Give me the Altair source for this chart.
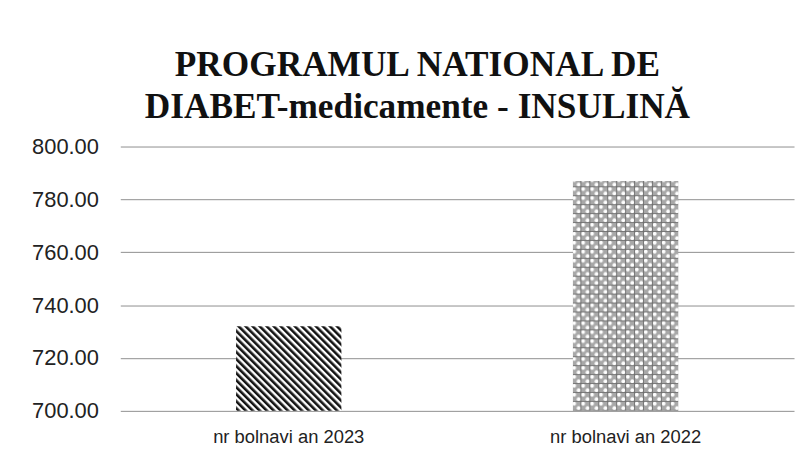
import altair as alt
import pandas as pd

categories = ["nr bolnavi an 2023", "nr bolnavi an 2022"]
values = [732, 787]
fills = ["url(#hatch)", "url(#lattice)"]
tick_values = [700, 720, 740, 760, 780, 800]
title_lines = ["PROGRAMUL NATIONAL DE", "DIABET-medicamente - INSULINĂ"]

df = pd.DataFrame({"cat": categories, "val": values})

chart = alt.Chart(df).mark_bar(size=106).encode(
    x=alt.X("cat:N", sort=categories, title=None,
            axis=alt.Axis(labelAngle=0, labelFont="Liberation Sans", labelFontSize=18.5,
                          labelColor="#222", labelPadding=17, ticks=False, domain=False,
                          grid=False)),
    y=alt.Y("val:Q", title=None,
            scale=alt.Scale(domain=[700, 800], zero=False, nice=False),
            axis=alt.Axis(values=tick_values, format=".2f", labelFont="Liberation Sans",
                          labelFontSize=22, labelColor="#222", labelPadding=22,
                          ticks=False, domain=False, grid=True,
                          gridColor="#8f8f8f", gridWidth=1)),
    y2=alt.datum(700),
    fill=alt.Fill("cat:N", scale=alt.Scale(domain=categories, range=fills), legend=None),
).properties(
    width=678, height=266,
    padding={"left": 23, "top": 39, "right": 5, "bottom": 5},
    title=alt.TitleParams(title_lines, font="Liberation Serif", fontSize=35.5, fontWeight="bold",
                          color="#111", lineHeight=42, anchor="middle", dx=-40, offset=10),
).configure_view(stroke=None)

chart.save("out.html", embed_options={"renderer": "svg", "actions": False})

defs = """<svg width="0" height="0" style="position:absolute">
<defs>
<pattern id="hatch" patternUnits="userSpaceOnUse" width="5" height="5" patternTransform="rotate(-45)">
<rect x="0" y="0" width="5" height="5" fill="#ffffff"/>
<rect x="0" y="0" width="2.6" height="5" fill="#111111"/>
</pattern>
<pattern id="lattice" patternUnits="userSpaceOnUse" width="9" height="9">
<rect x="0" y="0" width="9" height="9" fill="#a8a8a8"/>
<circle cx="2.25" cy="2.25" r="1.9" fill="#ffffff"/>
<circle cx="6.75" cy="6.75" r="1.9" fill="#ffffff"/>
<path d="M0 4.5 L9 4.5 M4.5 0 L4.5 9" stroke="#6a6a6a" stroke-width="0.8"/>
</pattern>
</defs>
</svg>"""

with open("out.html", encoding="utf-8") as f:
    html = f.read()
html = html.replace("<body>", "<body>\n" + defs, 1)
with open("out.html", "w", encoding="utf-8") as f:
    f.write(html)
